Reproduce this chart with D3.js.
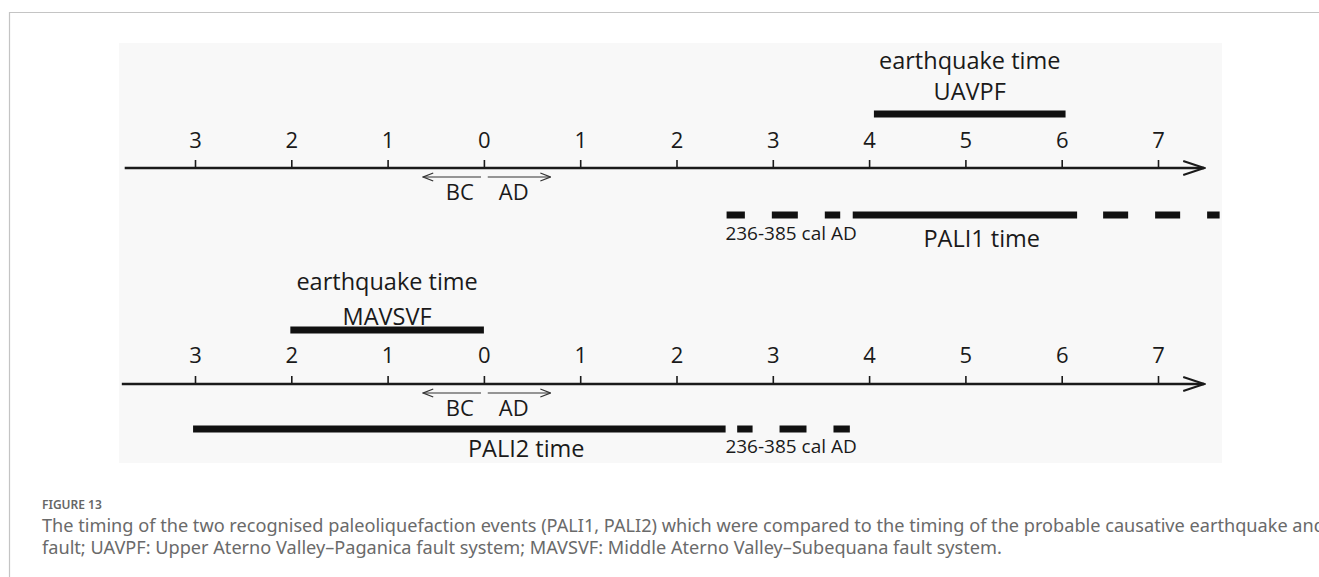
<!DOCTYPE html>
<html>
<head>
<meta charset="utf-8">
<script src="https://cdn.jsdelivr.net/npm/d3@7"></script>
<style>
    html, body { margin: 0; padding: 0; background: #fff; overflow: hidden; }
    #chart { width: 1319px; height: 577px; }
</style>
</head>
<body>
<div id="chart"></div>
<script>
// tick values in thousands of years (negative = BC)
const tickValues = [-3, -2, -1, 0, 1, 2, 3, 4, 5, 6, 7];
const tickLabels = ["3", "2", "1", "0", "1", "2", "3", "4", "5", "6", "7"];
const axisExtent = [-3.73, 7.48];

// top panel
const uavpfBar = [4.05, 6.04];
const pali1Solid = [3.83, 6.16];
const pali1Dashes = [[2.52, 2.71], [2.99, 3.26], [3.54, 3.70], [6.43, 6.69], [6.97, 7.23], [7.51, 7.64]];

// bottom panel
const mavsvfBar = [-2.01, 0.0];
const pali2Solid = [-3.02, 2.51];
const pali2Dashes = [[2.63, 2.79], [3.07, 3.35], [3.63, 3.80]];

// BC / AD arrows
const bcArrow = [-0.03, -0.63];
const adArrow = [0.04, 0.69];

const panels = [
    {
        axisY: 168, labelY: 148, start: axisExtent[0],
        eq: { bar: uavpfBar, y: 114, title: "earthquake time", name: "UAVPF", titleY: 69, nameY: 100 },
        pali: { solid: pali1Solid, dashes: pali1Dashes, y: 215, label: "PALI1 time", labelX: 5.17, labelY: 247, calX: 3.19, calY: 240 }
    },
    {
        axisY: 384, labelY: 363, start: -3.76,
        eq: { bar: mavsvfBar, y: 330, title: "earthquake time", name: "MAVSVF", titleY: 290, nameY: 325 },
        pali: { solid: pali2Solid, dashes: pali2Dashes, y: 429, label: "PALI2 time", labelX: 0.44, labelY: 457, calX: 3.19, calY: 453 }
    }
];

const width = 1319, height = 577;
const figFont = "'Open Sans', 'DejaVu Sans', sans-serif";
const ink = "#1a1a1a";

const svg = d3.select("#chart").append("svg")
    .attr("width", width).attr("height", height)
    .style("font-family", figFont);

// card border
svg.append("path")
    .attr("d", `M9.5,${height} V12.5 H${width}`)
    .attr("fill", "none").attr("stroke", "#c4c4c4").attr("stroke-width", 1.2);

// figure background
svg.append("rect")
    .attr("x", 119).attr("y", 43).attr("width", 1103).attr("height", 420)
    .attr("fill", "#f8f8f8");

const x = d3.scaleLinear().domain([-3, 7]).range([195, 1158]);

const defs = svg.append("defs");
defs.append("marker")
    .attr("id", "bigArrow").attr("viewBox", "0 0 24 16")
    .attr("refX", 22).attr("refY", 8)
    .attr("markerWidth", 24).attr("markerHeight", 16)
    .attr("markerUnits", "userSpaceOnUse").attr("orient", "auto")
    .append("path").attr("d", "M1,1 L22,8 L1,15")
    .attr("fill", "none").attr("stroke", ink).attr("stroke-width", 2);

defs.append("marker")
    .attr("id", "smallArrow").attr("viewBox", "0 0 12 10")
    .attr("refX", 11).attr("refY", 5)
    .attr("markerWidth", 12).attr("markerHeight", 10)
    .attr("markerUnits", "userSpaceOnUse").attr("orient", "auto")
    .append("path").attr("d", "M1,1 L11,5 L1,9")
    .attr("fill", "none").attr("stroke", "#333").attr("stroke-width", 1.2);

function label(g, xPos, yPos, size, txt) {
    return g.append("text").attr("x", xPos).attr("y", yPos)
        .attr("text-anchor", "middle").attr("fill", ink)
        .style("font-size", size + "px").text(txt);
}

panels.forEach(p => {
    const g = svg.append("g");

    // main time axis
    const axis = d3.axisTop(x)
        .tickValues(tickValues)
        .tickFormat((d, i) => tickLabels[i])
        .tickSize(9).tickSizeOuter(0);

    const axisG = g.append("g")
        .attr("transform", `translate(0,${p.axisY + 1})`)
        .call(axis);
    axisG.select(".domain").remove();
    axisG.selectAll(".tick line").attr("stroke", ink).attr("stroke-width", 1.6);
    axisG.selectAll(".tick text")
        .attr("y", p.labelY - p.axisY - 1).attr("dy", 0)
        .attr("fill", ink)
        .style("font-size", "22px").style("font-family", figFont);

    g.append("line")
        .attr("x1", x(p.start)).attr("x2", x(axisExtent[1]))
        .attr("y1", p.axisY).attr("y2", p.axisY)
        .attr("stroke", ink).attr("stroke-width", 2.4)
        .attr("marker-end", "url(#bigArrow)");

    // BC / AD arrows
    [bcArrow, adArrow].forEach(a => {
        g.append("line")
            .attr("x1", x(a[0])).attr("x2", x(a[1]))
            .attr("y1", p.axisY + 9).attr("y2", p.axisY + 9)
            .attr("stroke", "#333").attr("stroke-width", 1.2)
            .attr("marker-end", "url(#smallArrow)");
    });
    label(g, x(-0.25), p.axisY + 32, 22, "BC");
    label(g, x(0.31), p.axisY + 32, 22, "AD");

    // earthquake time bar + labels
    const eqMid = (p.eq.bar[0] + p.eq.bar[1]) / 2;
    g.append("line")
        .attr("x1", x(p.eq.bar[0])).attr("x2", x(p.eq.bar[1]))
        .attr("y1", p.eq.y).attr("y2", p.eq.y)
        .attr("stroke", "#111").attr("stroke-width", 7);
    label(g, x(eqMid), p.eq.titleY, 23.5, p.eq.title);
    label(g, x(eqMid), p.eq.nameY, 23.5, p.eq.name);

    // paleoliquefaction time: solid part + dashed uncertainty
    g.append("line")
        .attr("x1", x(p.pali.solid[0])).attr("x2", x(p.pali.solid[1]))
        .attr("y1", p.pali.y).attr("y2", p.pali.y)
        .attr("stroke", "#111").attr("stroke-width", 7);
    g.selectAll(".dash").data(p.pali.dashes).enter()
        .append("line").attr("class", "dash")
        .attr("x1", d => x(d[0])).attr("x2", d => x(d[1]))
        .attr("y1", p.pali.y).attr("y2", p.pali.y)
        .attr("stroke", "#111").attr("stroke-width", 7);

    label(g, x(p.pali.calX), p.pali.calY, 19, "236-385 cal AD");
    label(g, x(p.pali.labelX), p.pali.labelY, 23.5, p.pali.label);
});

// caption
const capFont = "'Noto Sans', 'Open Sans', sans-serif";
svg.append("text").attr("x", 42).attr("y", 509)
    .attr("fill", "#666").style("font-family", capFont)
    .style("font-size", "12px").style("font-weight", 600)
    .text("FIGURE 13");

const capLines = [
    "The timing of the two recognised paleoliquefaction events (PALI1, PALI2) which were compared to the timing of the probable causative earthquake and",
    "fault; UAVPF: Upper Aterno Valley\u2013Paganica fault system; MAVSVF: Middle Aterno Valley\u2013Subequana fault system."
];
const capText = svg.selectAll(".cap").data(capLines).enter()
    .append("text").attr("class", "cap")
    .attr("x", 42).attr("y", (d, i) => 532 + i * 22)
    .attr("fill", "#6a6a6a").style("font-family", capFont)
    .style("font-size", "15px")
    .text(d => d);

// fit first caption line so it runs just past the right edge like the original
const w0 = capText.node().getComputedTextLength();
const capSize = 15 * 1284 / w0;
capText.style("font-size", capSize + "px");
</script>
</body>
</html>
